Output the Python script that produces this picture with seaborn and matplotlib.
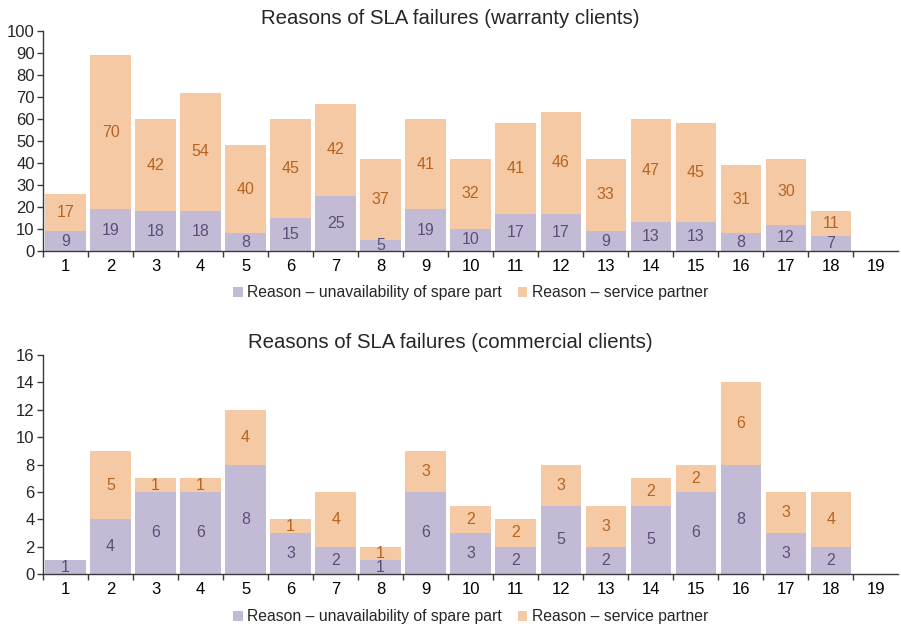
import numpy as np
import pandas as pd
import matplotlib
matplotlib.use("Agg")
import matplotlib.pyplot as plt
import seaborn as sns
from matplotlib.patches import Patch
from matplotlib.ticker import FixedLocator

sns.set_theme(style="white")
plt.rcParams['font.family'] = ['Liberation Sans', 'DejaVu Sans']

#Categories and values.
categories = [str(i) for i in range(1, 20)]
warranty_spare = [9, 19, 18, 18, 8, 15, 25, 5, 19, 10, 17, 17, 9, 13, 13, 8, 12, 7, 0]
warranty_partner = [17, 70, 42, 54, 40, 45, 42, 37, 41, 32, 41, 46, 33, 47, 45, 31, 30, 11, 0]
commercial_spare = [1, 4, 6, 6, 8, 3, 2, 1, 6, 3, 2, 5, 2, 5, 6, 8, 3, 2, 0]
commercial_partner = [0, 5, 1, 1, 4, 1, 4, 1, 3, 2, 2, 3, 3, 2, 2, 6, 3, 4, 0]

titles = ["Reasons of SLA failures (warranty clients)", "Reasons of SLA failures (commercial clients)"]
legend_labels = ["Reason \u2013 unavailability of spare part", "Reason \u2013 service partner"]

purple = "#C3BBD6"
orange = "#F5C9A3"
purple_text = "#5B4F7A"
orange_text = "#B8631F"
spine_col = "#3A3A3A"

fig = plt.figure(figsize=(9.01, 6.27), dpi=100)
ax1 = fig.add_axes([0.0477, 0.5997, 0.9495, 0.3509])
ax2 = fig.add_axes([0.0477, 0.0845, 0.9495, 0.3493])

setups = [
    (ax1, warranty_spare, warranty_partner, 100, 10),
    (ax2, commercial_spare, commercial_partner, 16, 2),
]

for i, (ax, spare, partner, ymax, ystep) in enumerate(setups):
    df = pd.DataFrame({"cat": categories, "spare": spare, "partner": partner})
    df["total"] = df["spare"] + df["partner"]

    #Total bar (orange) first, then the purple part on top of it.
    sns.barplot(data=df, x="cat", y="total", order=categories, color=orange,
                saturation=1, width=0.9, linewidth=0, ax=ax)
    sns.barplot(data=df, x="cat", y="spare", order=categories, color=purple,
                saturation=1, width=0.9, linewidth=0, ax=ax)

    #Value labels in the middle of each segment.
    for j, row in df.iterrows():
        if row["spare"] > 0:
            ax.text(j, row["spare"] / 2, str(row["spare"]), ha="center", va="center",
                    fontsize=11.5, color=purple_text)
        if row["partner"] > 0:
            ax.text(j, row["spare"] + row["partner"] / 2, str(row["partner"]), ha="center",
                    va="center", fontsize=11.5, color=orange_text)

    ax.set_xlim(-0.5, len(categories) - 0.5)
    ax.set_ylim(0, ymax)
    ax.set_yticks(np.arange(0, ymax + 1, ystep))
    ax.set_xlabel("")
    ax.set_ylabel("")
    #Title is centred on the figure, not on the axes.
    ax.set_title(titles[i], fontsize=14.7, pad=5, x=0.4766)

    for s in ["top", "right"]:
        ax.spines[s].set_visible(False)
    for s in ["left", "bottom"]:
        ax.spines[s].set_color(spine_col)
        ax.spines[s].set_linewidth(1.0)

    ax.xaxis.set_minor_locator(FixedLocator(np.arange(-0.5, len(categories) - 0.5, 1)))
    ax.tick_params(axis="x", which="major", length=0, pad=6, labelsize=12, colors="black")
    ax.tick_params(axis="x", which="minor", length=4, width=1, direction="out",
                   color=spine_col, bottom=True)
    ax.tick_params(axis="y", which="major", length=4, width=1, direction="out",
                   color=spine_col, pad=2, labelsize=12, left=True)

    handles = [Patch(facecolor=purple, edgecolor="none"), Patch(facecolor=orange, edgecolor="none")]
    ax.legend(handles, legend_labels, loc="center", bbox_to_anchor=(0.5, -0.19 if i == 0 else -0.195),
              ncol=2, frameon=False, fontsize=11.3, handlelength=0.6, handleheight=0.6,
              handletextpad=0.3, columnspacing=1.0)

fig.savefig("out.png", dpi=100)
